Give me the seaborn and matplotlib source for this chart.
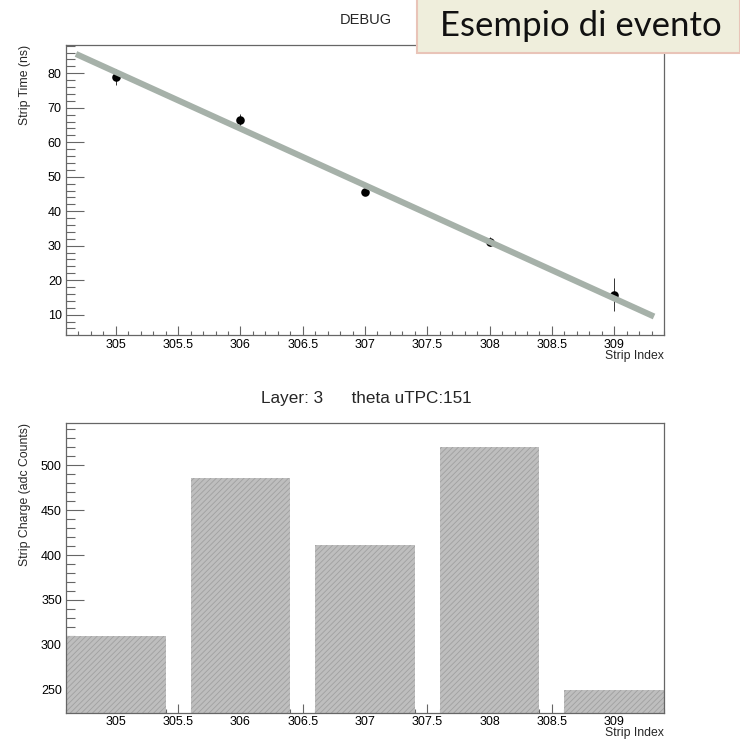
import numpy as np
import pandas as pd
import matplotlib
matplotlib.use("Agg")
import matplotlib.pyplot as plt
from matplotlib.ticker import MultipleLocator
import seaborn as sns

# ---- data ----
strips = [305, 306, 307, 308, 309]
strip_time = [78.9, 66.4, 45.7, 31.2, 15.8]
strip_time_err = [2.2, 1.8, 0.8, 1.4, 4.7]
strip_charge = [309.5, 485.5, 410.9, 520.0, 250.0]

# linear fit of time vs strip
fit_slope = -16.41
fit_at_305 = 80.35
fit_range = [304.68, 309.32]

layer = 3
theta_utpc = 151

sns.set_theme(style="white")
plt.rcParams["font.family"] = ["Liberation Sans", "DejaVu Sans"]
plt.rcParams["hatch.linewidth"] = 0.6

fig = plt.figure(figsize=(7.4, 7.39), dpi=100)
ax1 = fig.add_axes([0.0892, 0.5467, 0.8081, 0.3924])
ax2 = fig.add_axes([0.0892, 0.0348, 0.8081, 0.3924])

frame_col = "#666666"
tick_fs = 9

# ---- top panel: strip time with fit ----
df_t = pd.DataFrame({"strip": strips, "time": strip_time, "err": strip_time_err})
ax1.errorbar(df_t["strip"], df_t["time"], yerr=df_t["err"], fmt="none",
             ecolor="#333333", elinewidth=0.7, capsize=0, zorder=2)
sns.scatterplot(data=df_t, x="strip", y="time", ax=ax1, color="black",
                s=38, edgecolor="black", linewidth=0, zorder=3, legend=False)
fit_x = np.array(fit_range)
df_fit = pd.DataFrame({"x": fit_x, "y": fit_at_305 + fit_slope * (fit_x - 305)})
sns.lineplot(data=df_fit, x="x", y="y", ax=ax1, color="#a6b1a9", lw=4.4,
             solid_capstyle="butt", zorder=4)
ax1.set_ylim(4.1, 88.2)
ax1.yaxis.set_major_locator(MultipleLocator(10))
ax1.yaxis.set_minor_locator(MultipleLocator(2))

# ---- bottom panel: strip charge ----
df_c = pd.DataFrame({"strip": strips, "charge": strip_charge})
sns.histplot(data=df_c, x="strip", weights="charge", discrete=True, shrink=0.8,
             ax=ax2, color="#bebebe", alpha=1, edgecolor="#a0a0a0", linewidth=0,
             hatch="//////", legend=False)
ax2.set_ylim(223.7, 546.8)
ax2.yaxis.set_major_locator(MultipleLocator(50))
ax2.yaxis.set_minor_locator(MultipleLocator(10))

fmt = plt.FuncFormatter(lambda v, p: f"{v:g}")
for ax in (ax1, ax2):
    for s in ax.spines.values():
        s.set_color(frame_col)
        s.set_linewidth(0.9)
    ax.set_xlim(304.6, 309.4)
    ax.xaxis.set_major_locator(MultipleLocator(0.5))
    ax.xaxis.set_minor_locator(MultipleLocator(0.1))
    ax.xaxis.set_major_formatter(fmt)
    ax.yaxis.set_major_formatter(fmt)
    ax.tick_params(axis="both", which="both", direction="in", color=frame_col,
                   width=0.8, labelsize=tick_fs, labelcolor="black",
                   bottom=True, left=True, top=False, right=False)
    ax.tick_params(axis="x", which="major", length=6.5, pad=3)
    ax.tick_params(axis="x", which="minor", length=3.2)
    ax.tick_params(axis="y", which="major", length=13, pad=3)
    ax.tick_params(axis="y", which="minor", length=6.5)
    ax.set_xlabel("")
    ax.set_ylabel("")
ax2.tick_params(axis="x", which="major", pad=2)

ax1.text(-0.0686, 1.0, "Strip Time (ns)", transform=ax1.transAxes, rotation=90,
         ha="center", va="top", fontsize=8.8)
ax1.text(1.0, -0.074, "Strip Index", transform=ax1.transAxes, ha="right",
         va="center", fontsize=8.8)
ax2.text(-0.0686, 1.0, "Strip Charge (adc Counts)", transform=ax2.transAxes,
         rotation=90, ha="center", va="top", fontsize=8.8)
ax2.text(1.0, -0.0475, "Strip Index", transform=ax2.transAxes, ha="right",
         va="top", fontsize=8.8)

# ---- titles ----
fig.text(366 / 740, 1 - 20 / 739, "DEBUG", ha="center", va="center", fontsize=10.5)
fig.text(366 / 740, 1 - 399 / 739, f"Layer: {layer}      theta uTPC:{theta_utpc}",
         ha="center", va="center", fontsize=12.3)

# ---- caption box ----
fig.patches.append(plt.Rectangle((417 / 740, 1 - 53 / 739), 1 - 417 / 740, 53 / 739 + 0.01,
                                 transform=fig.transFigure, facecolor="#efeedc",
                                 edgecolor="#e9c4b8", linewidth=1.5, zorder=10))
fig.text(581 / 740, 1 - 26 / 739, "Esempio di evento", ha="center", va="center",
         fontsize=25, family=["Lato", "DejaVu Sans"], fontweight="normal",
         color="#111111", zorder=11)

fig.savefig("out.png", dpi=100)
